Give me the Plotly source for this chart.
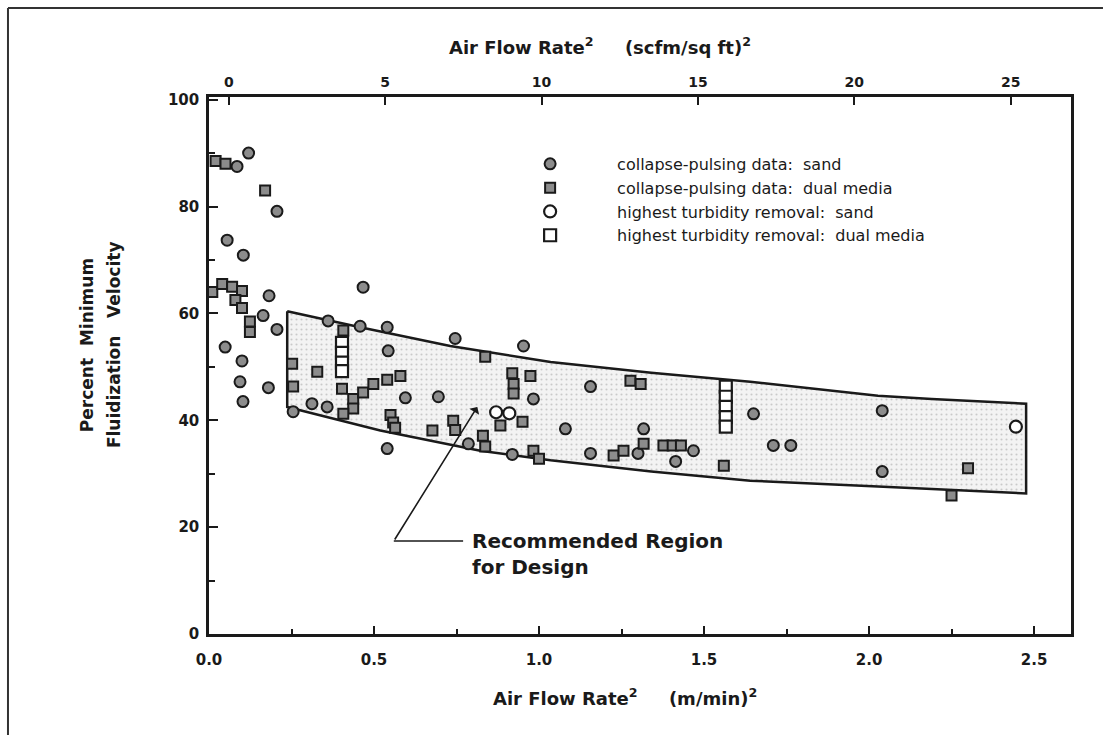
import plotly.graph_objects as go

# ---------------- data ----------------
# collapse-pulsing data: sand
sand_x = [0.12, 0.085, 0.206, 0.055, 0.104, 0.467, 0.182, 0.164, 0.206, 0.049,
          0.100, 0.094, 0.180, 0.103, 0.361, 0.458, 0.540, 0.746, 0.953, 0.543,
          0.255, 0.312, 0.358, 0.595, 0.695, 0.540, 0.786, 0.983, 1.156, 1.080,
          0.919, 1.156, 1.317, 1.300, 1.468, 1.414, 1.650, 1.710, 1.763, 2.040,
          2.040]
sand_y = [90.0, 87.5, 79.1, 73.7, 70.9, 64.9, 63.3, 59.6, 57.0, 53.7,
          51.1, 47.2, 46.1, 43.5, 58.6, 57.6, 57.4, 55.3, 53.9, 53.0,
          41.6, 43.1, 42.5, 44.2, 44.4, 34.7, 35.6, 44.0, 46.3, 38.4,
          33.6, 33.8, 38.4, 33.8, 34.3, 32.3, 41.2, 35.3, 35.3, 41.8,
          30.4]

# collapse-pulsing data: dual media
dual_x = [0.02, 0.05, 0.17, 0.01, 0.04, 0.07, 0.10, 0.08, 0.10, 0.124,
          0.124, 0.407, 0.328, 0.252, 0.255, 0.403, 0.437, 0.467, 0.498, 0.540,
          0.580, 0.437, 0.407, 0.550, 0.558, 0.564, 0.677, 0.740, 0.746, 0.837,
          0.919, 0.923, 0.923, 0.974, 0.883, 0.950, 0.830, 0.837, 0.983, 1.000,
          1.277, 1.308, 1.226, 1.256, 1.317, 1.377, 1.405, 1.430, 1.560, 2.300,
          2.250]
dual_y = [88.5, 88.0, 83.0, 64.0, 65.5, 65.0, 64.2, 62.5, 61.0, 58.5,
          56.5, 56.8, 49.1, 50.6, 46.3, 45.9, 44.0, 45.2, 46.8, 47.6,
          48.3, 42.2, 41.2, 41.0, 39.6, 38.6, 38.1, 39.9, 38.2, 51.9,
          48.8, 46.8, 45.0, 48.3, 39.0, 39.7, 37.1, 35.1, 34.3, 32.8,
          47.4, 46.8, 33.4, 34.3, 35.6, 35.3, 35.3, 35.3, 31.5, 31.0,
          25.9]

# highest turbidity removal: sand
turb_sand_x = [0.870, 0.910, 2.445]
turb_sand_y = [41.5, 41.3, 38.8]

# highest turbidity removal: dual media
turb_dual_x = [0.403, 0.403, 0.403, 0.403, 1.566, 1.566, 1.566, 1.566, 1.566]
turb_dual_y = [54.5, 52.6, 50.8, 49.2, 46.3, 44.4, 42.5, 40.6, 38.8]

# recommended design region boundaries
region_upper_x = [0.237, 0.458, 0.731, 1.035, 1.340, 1.640, 2.027, 2.190, 2.476]
region_upper_y = [60.4, 57.4, 53.9, 50.9, 48.9, 47.2, 44.6, 44.0, 43.1]
region_lower_x = [0.237, 0.519, 0.822, 1.035, 1.340, 1.640, 2.027, 2.476]
region_lower_y = [42.5, 38.1, 34.3, 32.5, 30.4, 28.7, 27.6, 26.3]

# axes
x_ticks = [0.0, 0.5, 1.0, 1.5, 2.0, 2.5]
y_ticks = [0, 20, 40, 60, 80, 100]
top_ticks = [0, 5, 10, 15, 20, 25]

legend_names = [
    "collapse-pulsing data:\u00a0\u00a0sand",
    "collapse-pulsing data:\u00a0\u00a0dual media",
    "highest turbidity removal:\u00a0\u00a0sand",
    "highest turbidity removal:\u00a0\u00a0dual media",
]

# ---------------- figure ----------------
INK = "#1a1a1a"
FILL = "#8c8c8c"
FONT = "DejaVu Sans"
NB = "\u00a0"

fig = go.Figure()

poly_x = region_upper_x + region_lower_x[::-1] + [region_upper_x[0]]
poly_y = region_upper_y + region_lower_y[::-1] + [region_upper_y[0]]
fig.add_trace(go.Scatter(
    x=poly_x, y=poly_y, mode="lines", fill="toself",
    line=dict(color=INK, width=2.5),
    fillcolor="#f1f1f1",
    fillpattern=dict(shape=".", bgcolor="#f3f3f3", fgcolor="#a0a0a0",
                     size=5, solidity=0.14),
    showlegend=False, hoverinfo="skip"))

fig.add_trace(go.Scatter(
    x=sand_x, y=sand_y, mode="markers", name=legend_names[0],
    marker=dict(symbol="circle", size=11, color=FILL,
                line=dict(color=INK, width=2))))
fig.add_trace(go.Scatter(
    x=dual_x, y=dual_y, mode="markers", name=legend_names[1],
    marker=dict(symbol="square", size=10, color=FILL,
                line=dict(color=INK, width=2))))
fig.add_trace(go.Scatter(
    x=turb_sand_x, y=turb_sand_y, mode="markers", name=legend_names[2],
    marker=dict(symbol="circle", size=12, color="white",
                line=dict(color=INK, width=2.2))))
fig.add_trace(go.Scatter(
    x=turb_dual_x, y=turb_dual_y, mode="markers", name=legend_names[3],
    marker=dict(symbol="square", size=12, color="white",
                line=dict(color=INK, width=2.2))))

# invisible trace so the top axis is drawn
fig.add_trace(go.Scatter(
    x=top_ticks, y=[None] * len(top_ticks), xaxis="x2", mode="markers",
    marker=dict(opacity=0), showlegend=False, hoverinfo="skip"))

tickfont = dict(family=FONT, size=15, color=INK, weight="bold")

fig.update_layout(
    width=1106, height=735,
    margin=dict(l=209, r=35, t=97, b=101),
    paper_bgcolor="white", plot_bgcolor="white",
    font=dict(family=FONT, color=INK),
    xaxis=dict(
        range=[0, 2.612], tickvals=x_ticks,
        ticktext=[f"{v:.1f}" for v in x_ticks],
        showline=True, linecolor=INK, linewidth=2.5,
        ticks="inside", ticklen=8, tickwidth=2, tickcolor=INK,
        minor=dict(dtick=0.25, ticks="inside", ticklen=5, tickwidth=1.5,
                   tickcolor=INK, showgrid=False),
        showgrid=False, zeroline=False, tickfont=tickfont,
        ticklabelstandoff=10,
    ),
    xaxis2=dict(
        overlaying="x", side="top", range=[-0.636, 26.93],
        tickvals=top_ticks, showline=True, linecolor=INK, linewidth=2.5,
        ticks="inside", ticklen=8, tickwidth=2, tickcolor=INK,
        showgrid=False, zeroline=False, tickfont=dict(family=FONT, size=14,
                                                       color=INK, weight="bold"),
        ticklabelstandoff=2,
    ),
    yaxis=dict(
        range=[0, 100.5], tickvals=y_ticks,
        showline=True, mirror=True, linecolor=INK, linewidth=2.5,
        ticks="inside", ticklen=9, tickwidth=2, tickcolor=INK,
        minor=dict(dtick=10, ticks="inside", ticklen=6, tickwidth=1.5,
                   tickcolor=INK, showgrid=False),
        showgrid=False, zeroline=False, tickfont=tickfont,
        ticklabelstandoff=4,
    ),
    legend=dict(
        x=0.318, y=0.907, xanchor="left", yanchor="top",
        bgcolor="rgba(0,0,0,0)", itemwidth=124,
        font=dict(family=FONT, size=16, color=INK),
        itemclick=False,
    ),
    showlegend=True,
)

title_font = dict(family=FONT, size=18, color=INK, weight="bold")
annotations = [
    dict(text=f"Air Flow Rate<sup>2</sup>{NB*5}(scfm/sq{NB}ft)<sup>2</sup>",
         x=0.454, y=1.121, xref="paper", yref="paper",
         showarrow=False, font=title_font),
    dict(text=f"Air Flow Rate<sup>2</sup>{NB*5}(m/min)<sup>2</sup>",
         x=0.4826, y=-0.143, xref="paper", yref="paper",
         showarrow=False, font=title_font),
    dict(text=f"Percent{NB*2}Minimum",
         x=-0.1554, y=0.538, xref="paper", yref="paper", textangle=-90,
         showarrow=False, font=dict(family=FONT, size=17, color=INK, weight="bold")),
    dict(text=f"Fluidization{NB*3}Velocity",
         x=-0.1241, y=0.538, xref="paper", yref="paper", textangle=-90,
         showarrow=False, font=dict(family=FONT, size=17, color=INK, weight="bold")),
    # arrow pointing into the region
    dict(x=0.813, y=42.5, ax=0.56, ay=17.4, xref="x", yref="y",
         axref="x", ayref="y", text="", showarrow=True,
         arrowhead=1, arrowsize=1.2, arrowwidth=1.6, arrowcolor=INK),
    dict(text="Recommended Region<br>for Design",
         x=0.79, y=14.9, xref="x", yref="y", xanchor="left", yanchor="middle",
         align="left", showarrow=False,
         font=dict(family=FONT, size=20, color=INK, weight="bold")),
]
fig.update_layout(annotations=annotations)

shapes = [
    # leader line to the label
    dict(type="line", xref="x", yref="y", x0=0.56, y0=17.4, x1=0.77, y1=17.4,
         line=dict(color=INK, width=1.6)),
    # page frame (top and left edges of the scanned page)
    dict(type="line", xref="paper", yref="paper", x0=-0.2332, y0=1.1657,
         x1=1.0371, y1=1.1657, line=dict(color="#333333", width=2)),
    dict(type="line", xref="paper", yref="paper", x0=-0.2332, y0=1.1657,
         x1=-0.2332, y1=-0.19, line=dict(color="#333333", width=2)),
]
fig.update_layout(shapes=shapes)

fig.write_html("out.html")
